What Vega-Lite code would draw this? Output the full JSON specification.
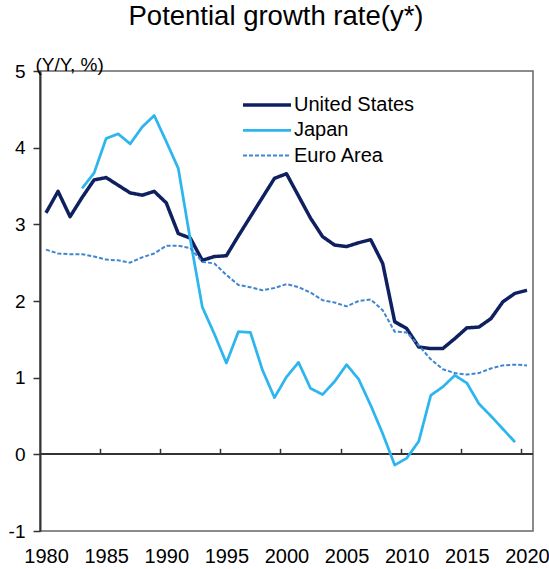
{
  "$schema": "https://vega.github.io/schema/vega-lite/v6.json",
  "width": 493,
  "height": 460,
  "autosize": {"type": "none"},
  "padding": {"left": 40, "top": 71, "right": 16, "bottom": 38},
  "background": "white",
  "title": {
    "text": "Potential growth rate(y*)",
    "font": "Liberation Sans",
    "fontSize": 27.5,
    "fontWeight": "normal",
    "color": "#000000",
    "anchor": "middle",
    "frame": "group",
    "baseline": "alphabetic",
    "offset": 2.5,
    "dx": -10.5
  },
  "config": {
    "view": {"stroke": "#666666", "strokeWidth": 1.5},
    "font": "Liberation Sans"
  },
  "data": {
    "values": [
      {"year": 1980, "country": "United States", "value": 3.15},
      {"year": 1981, "country": "United States", "value": 3.43},
      {"year": 1982, "country": "United States", "value": 3.10},
      {"year": 1983, "country": "United States", "value": 3.35},
      {"year": 1984, "country": "United States", "value": 3.58},
      {"year": 1985, "country": "United States", "value": 3.61},
      {"year": 1986, "country": "United States", "value": 3.51},
      {"year": 1987, "country": "United States", "value": 3.41},
      {"year": 1988, "country": "United States", "value": 3.38},
      {"year": 1989, "country": "United States", "value": 3.43},
      {"year": 1990, "country": "United States", "value": 3.28},
      {"year": 1991, "country": "United States", "value": 2.88},
      {"year": 1992, "country": "United States", "value": 2.82},
      {"year": 1993, "country": "United States", "value": 2.53},
      {"year": 1994, "country": "United States", "value": 2.58},
      {"year": 1995, "country": "United States", "value": 2.59},
      {"year": 1996, "country": "United States", "value": 2.85},
      {"year": 1997, "country": "United States", "value": 3.10},
      {"year": 1998, "country": "United States", "value": 3.35},
      {"year": 1999, "country": "United States", "value": 3.60},
      {"year": 2000, "country": "United States", "value": 3.66},
      {"year": 2001, "country": "United States", "value": 3.37},
      {"year": 2002, "country": "United States", "value": 3.08},
      {"year": 2003, "country": "United States", "value": 2.84},
      {"year": 2004, "country": "United States", "value": 2.73},
      {"year": 2005, "country": "United States", "value": 2.71},
      {"year": 2006, "country": "United States", "value": 2.76},
      {"year": 2007, "country": "United States", "value": 2.80},
      {"year": 2008, "country": "United States", "value": 2.49},
      {"year": 2009, "country": "United States", "value": 1.73},
      {"year": 2010, "country": "United States", "value": 1.64},
      {"year": 2011, "country": "United States", "value": 1.40},
      {"year": 2012, "country": "United States", "value": 1.38},
      {"year": 2013, "country": "United States", "value": 1.38},
      {"year": 2014, "country": "United States", "value": 1.51},
      {"year": 2015, "country": "United States", "value": 1.65},
      {"year": 2016, "country": "United States", "value": 1.66},
      {"year": 2017, "country": "United States", "value": 1.77},
      {"year": 2018, "country": "United States", "value": 1.99},
      {"year": 2019, "country": "United States", "value": 2.10},
      {"year": 2020, "country": "United States", "value": 2.14},
      {"year": 1983, "country": "Japan", "value": 3.47},
      {"year": 1984, "country": "Japan", "value": 3.67},
      {"year": 1985, "country": "Japan", "value": 4.12},
      {"year": 1986, "country": "Japan", "value": 4.18},
      {"year": 1987, "country": "Japan", "value": 4.05},
      {"year": 1988, "country": "Japan", "value": 4.27},
      {"year": 1989, "country": "Japan", "value": 4.42},
      {"year": 1990, "country": "Japan", "value": 4.08},
      {"year": 1991, "country": "Japan", "value": 3.73},
      {"year": 1992, "country": "Japan", "value": 2.80},
      {"year": 1993, "country": "Japan", "value": 1.92},
      {"year": 1994, "country": "Japan", "value": 1.57},
      {"year": 1995, "country": "Japan", "value": 1.19},
      {"year": 1996, "country": "Japan", "value": 1.60},
      {"year": 1997, "country": "Japan", "value": 1.59},
      {"year": 1998, "country": "Japan", "value": 1.10},
      {"year": 1999, "country": "Japan", "value": 0.74},
      {"year": 2000, "country": "Japan", "value": 1.01},
      {"year": 2001, "country": "Japan", "value": 1.20},
      {"year": 2002, "country": "Japan", "value": 0.86},
      {"year": 2003, "country": "Japan", "value": 0.78},
      {"year": 2004, "country": "Japan", "value": 0.95},
      {"year": 2005, "country": "Japan", "value": 1.17},
      {"year": 2006, "country": "Japan", "value": 0.98},
      {"year": 2007, "country": "Japan", "value": 0.64},
      {"year": 2008, "country": "Japan", "value": 0.27},
      {"year": 2009, "country": "Japan", "value": -0.14},
      {"year": 2010, "country": "Japan", "value": -0.05},
      {"year": 2011, "country": "Japan", "value": 0.17},
      {"year": 2012, "country": "Japan", "value": 0.77},
      {"year": 2013, "country": "Japan", "value": 0.88},
      {"year": 2014, "country": "Japan", "value": 1.03},
      {"year": 2015, "country": "Japan", "value": 0.93},
      {"year": 2016, "country": "Japan", "value": 0.66},
      {"year": 2017, "country": "Japan", "value": 0.50},
      {"year": 2018, "country": "Japan", "value": 0.33},
      {"year": 2019, "country": "Japan", "value": 0.16},
      {"year": 1980, "country": "Euro Area", "value": 2.67},
      {"year": 1981, "country": "Euro Area", "value": 2.62},
      {"year": 1982, "country": "Euro Area", "value": 2.61},
      {"year": 1983, "country": "Euro Area", "value": 2.61},
      {"year": 1984, "country": "Euro Area", "value": 2.58},
      {"year": 1985, "country": "Euro Area", "value": 2.54},
      {"year": 1986, "country": "Euro Area", "value": 2.53},
      {"year": 1987, "country": "Euro Area", "value": 2.50},
      {"year": 1988, "country": "Euro Area", "value": 2.57},
      {"year": 1989, "country": "Euro Area", "value": 2.62},
      {"year": 1990, "country": "Euro Area", "value": 2.72},
      {"year": 1991, "country": "Euro Area", "value": 2.72},
      {"year": 1992, "country": "Euro Area", "value": 2.69},
      {"year": 1993, "country": "Euro Area", "value": 2.51},
      {"year": 1994, "country": "Euro Area", "value": 2.49},
      {"year": 1995, "country": "Euro Area", "value": 2.34},
      {"year": 1996, "country": "Euro Area", "value": 2.21},
      {"year": 1997, "country": "Euro Area", "value": 2.18},
      {"year": 1998, "country": "Euro Area", "value": 2.14},
      {"year": 1999, "country": "Euro Area", "value": 2.17},
      {"year": 2000, "country": "Euro Area", "value": 2.22},
      {"year": 2001, "country": "Euro Area", "value": 2.18},
      {"year": 2002, "country": "Euro Area", "value": 2.11},
      {"year": 2003, "country": "Euro Area", "value": 2.01},
      {"year": 2004, "country": "Euro Area", "value": 1.98},
      {"year": 2005, "country": "Euro Area", "value": 1.93},
      {"year": 2006, "country": "Euro Area", "value": 2.00},
      {"year": 2007, "country": "Euro Area", "value": 2.02},
      {"year": 2008, "country": "Euro Area", "value": 1.88},
      {"year": 2009, "country": "Euro Area", "value": 1.60},
      {"year": 2010, "country": "Euro Area", "value": 1.59},
      {"year": 2011, "country": "Euro Area", "value": 1.42},
      {"year": 2012, "country": "Euro Area", "value": 1.24},
      {"year": 2013, "country": "Euro Area", "value": 1.11},
      {"year": 2014, "country": "Euro Area", "value": 1.06},
      {"year": 2015, "country": "Euro Area", "value": 1.04},
      {"year": 2016, "country": "Euro Area", "value": 1.06},
      {"year": 2017, "country": "Euro Area", "value": 1.12},
      {"year": 2018, "country": "Euro Area", "value": 1.16},
      {"year": 2019, "country": "Euro Area", "value": 1.17},
      {"year": 2020, "country": "Euro Area", "value": 1.16}
    ]
  },
  "resolve": {"axis": {"x": "independent"}},
  "layer": [
    {
      "mark": {"type": "rule", "color": "#333333", "strokeWidth": 1.5},
      "encoding": {
        "x": {
          "datum": 1979.5,
          "type": "quantitative",
          "scale": {"domain": [1979.5, 2020.5], "nice": false, "zero": false},
          "axis": {
            "orient": "top",
            "offset": -383.33,
            "values": [1984.5, 1989.5, 1994.5, 1999.5, 2004.5, 2009.5, 2014.5, 2019.5],
            "labels": false,
            "domain": false,
            "grid": false,
            "ticks": true,
            "tickSize": 6,
            "tickWidth": 1.5,
            "tickColor": "#333333",
            "title": null
          }
        },
        "x2": {"datum": 2020.5},
        "y": {"datum": 0, "type": "quantitative"}
      }
    },
    {
      "mark": {"type": "line", "strokeJoin": "round", "strokeCap": "butt"},
      "encoding": {
        "x": {
          "field": "year",
          "type": "quantitative",
          "scale": {"domain": [1979.5, 2020.5], "nice": false, "zero": false},
          "axis": {
            "orient": "bottom",
            "values": [1980, 1985, 1990, 1995, 2000, 2005, 2010, 2015, 2020],
            "format": "d",
            "labelFontSize": 20,
            "labelColor": "#000000",
            "labelPadding": 15,
            "labelFont": "Liberation Sans",
            "domain": false,
            "ticks": false,
            "grid": false,
            "title": null
          }
        },
        "y": {
          "field": "value",
          "type": "quantitative",
          "scale": {"domain": [-1, 5], "nice": false, "zero": false},
          "axis": {
            "values": [-1, 0, 1, 2, 3, 4, 5],
            "labelExpr": "'' + datum.value",
            "labelFontSize": 19,
            "labelColor": "#000000",
            "labelFont": "Liberation Sans",
            "labelPadding": 8,
            "tickSize": 7,
            "tickWidth": 1.5,
            "tickColor": "#333333",
            "domainColor": "#333333",
            "domainWidth": 2,
            "grid": false,
            "title": "(Y/Y, %)",
            "titleAngle": 0,
            "titleX": -5,
            "titleY": -1,
            "titleAlign": "left",
            "titleBaseline": "alphabetic",
            "titleFontSize": 19,
            "titleFontWeight": "normal",
            "titleColor": "#000000",
            "titleFont": "Liberation Sans"
          }
        },
        "color": {
          "field": "country",
          "type": "nominal",
          "scale": {
            "domain": ["United States", "Japan", "Euro Area"],
            "range": ["#0f2060", "#2db5ee", "#3f86d0"]
          },
          "legend": {
            "title": null,
            "orient": "none",
            "legendX": 201,
            "legendY": 24,
            "symbolType": "stroke",
            "symbolSize": 2300,
            "clipHeight": 20,
            "labelFontSize": 20,
            "labelColor": "#000000",
            "labelFont": "Liberation Sans",
            "labelOffset": 1,
            "rowPadding": 5.3,
            "padding": 0
          }
        },
        "strokeDash": {
          "field": "country",
          "type": "nominal",
          "scale": {
            "domain": ["United States", "Japan", "Euro Area"],
            "range": [[1, 0], [1, 0], [4, 2]]
          },
          "legend": {
            "title": null,
            "orient": "none",
            "legendX": 201,
            "legendY": 24,
            "symbolType": "stroke",
            "symbolSize": 2300,
            "clipHeight": 20,
            "labelFontSize": 20,
            "labelColor": "#000000",
            "labelFont": "Liberation Sans",
            "labelOffset": 1,
            "rowPadding": 5.3,
            "padding": 0
          }
        },
        "strokeWidth": {
          "field": "country",
          "type": "nominal",
          "scale": {
            "domain": ["United States", "Japan", "Euro Area"],
            "range": [3.5, 2, 2]
          },
          "legend": {
            "title": null,
            "orient": "none",
            "legendX": 201,
            "legendY": 24,
            "symbolType": "stroke",
            "symbolSize": 2300,
            "clipHeight": 20,
            "labelFontSize": 20,
            "labelColor": "#000000",
            "labelFont": "Liberation Sans",
            "labelOffset": 1,
            "rowPadding": 5.3,
            "padding": 0
          }
        }
      }
    }
  ]
}
